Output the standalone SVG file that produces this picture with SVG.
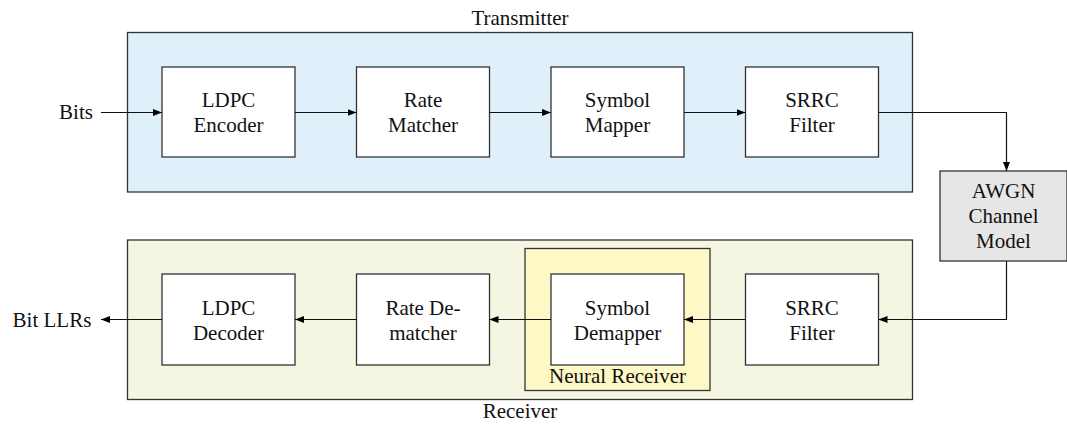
<svg xmlns="http://www.w3.org/2000/svg" width="1067" height="426" viewBox="0 0 1067 426" font-family="'Liberation Serif', 'Times New Roman', Times, serif">
<defs>
<marker id="arr" viewBox="0 0 9 7" refX="9" refY="3.5" markerWidth="9" markerHeight="7" markerUnits="userSpaceOnUse" orient="auto">
<path d="M0,0 L9,3.5 L0,7 z" fill="#000"/>
</marker>
<style>
text{font-family:'Liberation Serif','Times New Roman',Times,serif;font-size:21px;fill:#111;text-anchor:middle}
.blk{fill:#fff;stroke:#333;stroke-width:1.3}
.grp{stroke:#333;stroke-width:1.3}
.con{fill:none;stroke:#111;stroke-width:1.2;marker-end:url(#arr)}
</style>
</defs>
<rect x="0" y="0" width="1067" height="426" fill="#fff"/>
<g id="transmitter">
<rect class="grp" x="127.5" y="32.5" width="785" height="159.5" fill="#dff0fa"/>
<text x="520" y="25">Transmitter</text>
</g>
<g id="receiver">
<rect class="grp" x="127.5" y="240" width="785" height="159.5" fill="#f4f6e2"/>
<text x="520" y="418">Receiver</text>
</g>
<g id="neural-receiver">
<rect class="grp" x="525" y="248.5" width="185" height="142" fill="#fef8c6"/>
<text x="617.5" y="383">Neural Receiver</text>
</g>
<g id="ldpc-encoder">
<rect class="blk" x="162" y="67" width="133" height="90"/>
<text x="228.5" y="107">LDPC</text><text x="228.5" y="132">Encoder</text>
</g>
<g id="rate-matcher">
<rect class="blk" x="356.5" y="67" width="133" height="90"/>
<text x="423" y="107">Rate</text><text x="423" y="132">Matcher</text>
</g>
<g id="symbol-mapper">
<rect class="blk" x="551" y="67" width="133" height="90"/>
<text x="617.5" y="107">Symbol</text><text x="617.5" y="132">Mapper</text>
</g>
<g id="srrc-tx">
<rect class="blk" x="745.5" y="67" width="133" height="90"/>
<text x="812" y="107">SRRC</text><text x="812" y="132">Filter</text>
</g>
<g id="awgn">
<rect x="940" y="171" width="127" height="90" fill="#e6e6e6" stroke="#333" stroke-width="1.3"/>
<text x="1003.5" y="198">AWGN</text><text x="1003.5" y="223">Channel</text><text x="1003.5" y="248">Model</text>
</g>
<g id="srrc-rx">
<rect class="blk" x="745.5" y="274" width="133" height="91"/>
<text x="812" y="314.5">SRRC</text><text x="812" y="339.5">Filter</text>
</g>
<g id="symbol-demapper">
<rect class="blk" x="551" y="274" width="133" height="91"/>
<text x="617.5" y="314.5">Symbol</text><text x="617.5" y="339.5">Demapper</text>
</g>
<g id="rate-dematcher">
<rect class="blk" x="356.5" y="274" width="133" height="91"/>
<text x="423" y="314.5">Rate De-</text><text x="423" y="339.5">matcher</text>
</g>
<g id="ldpc-decoder">
<rect class="blk" x="162" y="274" width="133" height="91"/>
<text x="228.5" y="314.5">LDPC</text><text x="228.5" y="339.5">Decoder</text>
</g>
<g id="io-labels">
<text x="76" y="119">Bits</text>
<text x="52" y="326.5">Bit LLRs</text>
</g>
<g id="connectors">
<path class="con" d="M101,112.5 H162"/>
<path class="con" d="M295,112.5 H356.5"/>
<path class="con" d="M489.5,112.5 H551"/>
<path class="con" d="M684,112.5 H745.5"/>
<path class="con" d="M878.5,112.5 H1006.5 V171"/>
<path class="con" d="M1006.5,261 V319.5 H878.5"/>
<path class="con" d="M745.5,319.5 H684"/>
<path class="con" d="M551,319.5 H489.5"/>
<path class="con" d="M356.5,319.5 H295"/>
<path class="con" d="M162,319.5 H101"/>
</g>
</svg>
